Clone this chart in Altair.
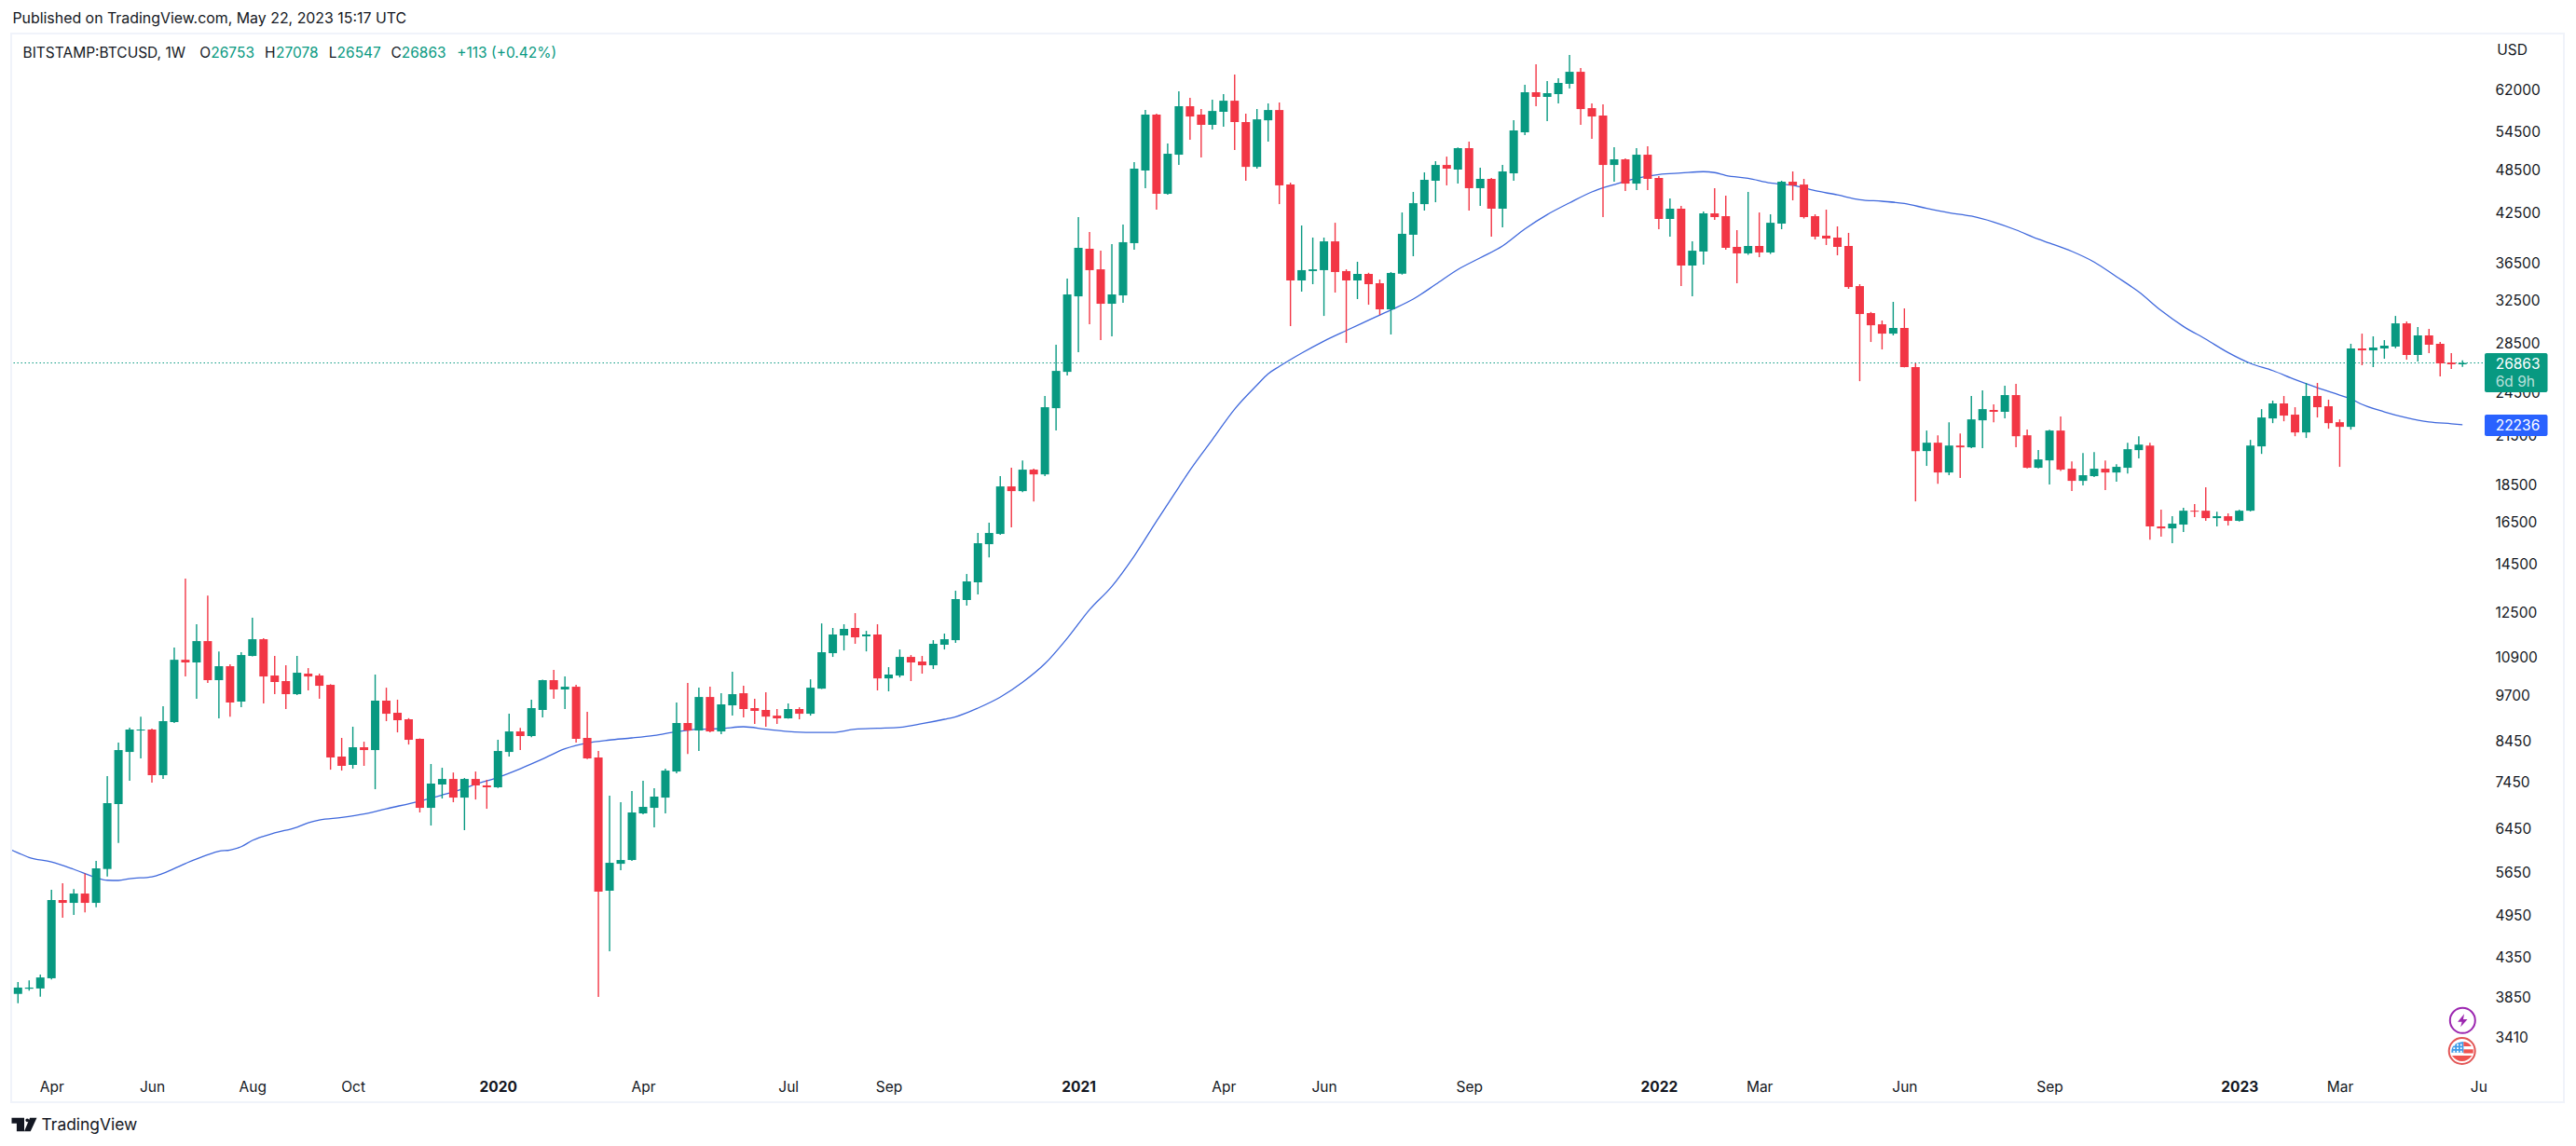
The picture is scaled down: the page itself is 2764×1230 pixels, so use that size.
import json
import altair as alt
import pandas as pd

# ---- weekly BTCUSD candles ----
opens = [3893,3955,3958,4084,5189,5144,5293,5144,5706,6961,8165,8719,8745,7604,8947,10827,10738,11464,10172,10616,
         9527,10954,11530,10317,10143,9745,10377,10317,10027,8051,7847,8283,8212,9554,9205,9024,8499,6881,7391,7517,
         7100,7517,7369,7327,8165,8694,8572,9285,10172,9886,9969,8523,8028,5339,5798,5865,6765,6881,7100,7690,
         8921,8719,9661,8694,9417,9773,9338,9285,9125,9050,9311,9178,9911,11048,11664,11933,11631,11698,10227,10317,
         10922,10769,10646,11336,11497,12999,13723,15424,15916,18407,18144,19377,19097,23389,26139,32937,38099,35777,32197,33033,
         38764,48415,57452,45078,50816,58944,57452,55675,57947,59950,56157,48957,56461,58265,46378,34581,35585,35687,38974,35585,
         34581,35280,34285,31655,35300,39772,43682,46919,49244,48555,51847,45867,47189,43074,47998,54421,61524,60650,61174,63125,
         65497,58604,57286,49244,50103,46513,50816,47325,41743,43074,36196,37782,42467,42105,38321,37567,38432,37674,41155,46784,
         46378,42105,39658,39430,38432,33988,31292,30235,29385,29899,26521,20510,21043,19209,20860,20747,22536,23262,23129,24346,
         21527,19488,19934,21840,19432,18723,18995,19432,19209,19488,20570,20860,16283,16188,16377,17088,17088,16705,16802,16565,
         17088,20807,22665,23730,22930,21715,24276,23526,22407,22090,28078,27916,28078,28240,30323,27524,29224,28483,26895,26753]
highs = [4037,4057,4130,5355,5461,5365,5630,5849,7583,8401,8795,9098,8770,9390,11238,13881,12071,13181,11108,10677,
         11080,12314,11564,10954,10646,10954,10554,10377,10047,8523,8820,8425,10347,9940,9582,9055,8510,7869,7779,7667,
         7539,7690,7495,8474,9178,8788,9582,10190,10493,10287,10027,9232,8189,7142,7001,7242,7474,7306,7757,9499,
         10085,9940,9969,9773,10436,9998,9609,9801,9311,9472,9362,10198,12101,11933,12071,12488,11830,12071,10585,11174,
         10985,10954,11497,11731,13375,14078,15962,16471,18995,19488,19934,19432,24276,28402,34772,41984,40099,37878,38653,41038,
         49673,58265,57600,52588,61699,60475,58435,60125,61174,64951,57617,58435,59454,59624,46648,40920,39430,39430,41260,35777,
         36614,35400,34680,35484,42578,45341,48137,49816,50521,51950,52891,48833,47325,49244,56461,62945,67020,63655,64210,68960,
         66259,59454,59284,51995,50246,51847,52142,47595,44449,43447,38974,42702,45867,44832,40334,45341,42578,42346,46919,48276,
         47189,42346,42950,40803,40000,34186,31400,30587,32384,31745,26827,21840,21527,22407,21652,24276,24690,23662,25051,25196,
         21902,20570,21900,22798,19877,20392,20451,19934,19704,21043,21464,21043,17138,16802,17238,17437,18355,17039,16948,17138,
         21225,23321,23935,24276,23458,25268,25268,24003,22600,28483,29385,29141,28808,31019,30499,29985,29813,28641,27682,27078]
lows = [3783,3932,3860,4069,4915,4958,4998,5076,5577,6180,7474,8005,7433,7517,8920,10287,9609,10085,9050,9098,
        9362,10940,9472,9745,9311,9720,9858,9609,7734,7712,7757,7824,7285,8973,8669,8352,6784,6518,7080,7001,
        6427,7059,6861,7310,8051,8212,8540,9076,9609,9311,8401,7990,3857,4436,5684,5850,6745,6480,6765,7648,
        8117,8189,8669,8619,9125,9076,8895,8820,8895,9040,9024,9125,9900,10922,11141,11369,11108,9858,9830,10257,
        10143,10377,10524,11174,11401,12779,13221,14817,15870,16236,18091,17583,19000,21840,25847,27754,30235,28808,29141,32290,
        37989,45867,42950,44950,49244,53194,50374,54872,55354,51553,46919,48700,52891,43682,30070,33417,34186,31019,33321,28558,
        32664,32104,31110,29307,35200,37244,42826,43938,46262,46513,42826,43447,39544,40686,46919,53953,58944,56317,59454,62225,
        55675,53329,41984,46784,45473,45604,45604,40451,39544,33988,32937,36300,41622,37989,34285,37400,37136,37500,40451,44193,
        41800,39202,38543,37351,33705,25404,28641,27997,29224,26500,17583,19600,18560,19049,18886,20700,20688,22407,22665,20747,
        19450,19450,18513,19300,18144,18460,18950,18196,18669,19153,20049,15641,15778,15469,16007,16754,16565,16283,16330,16530,
        17050,20333,22342,22471,21464,21347,22732,21965,19544,21902,26674,26521,27210,28100,27131,26974,27682,25773,26368,26547]
closes = [3969,3969,4094,5189,5144,5293,5144,5717,6981,8212,8745,8745,7604,8973,10827,10738,11464,10172,10616,9499,
          10985,11530,10287,10114,9745,10406,10287,9998,8028,7824,8283,8212,9554,9178,8998,8474,6881,7412,7517,7100,
          7517,7369,7327,8189,8694,8572,9338,10172,9886,9969,8499,8005,5324,5815,5865,6784,6901,7121,7712,8921,
          8719,9661,8694,9445,9745,9311,9258,9098,9050,9311,9178,9940,11080,11698,11899,11597,11698,10227,10347,10922,
          10738,10646,11369,11530,13037,13762,15469,15962,18407,18144,19377,19097,23458,26215,33129,38210,35687,32197,33129,38875,
          48694,57452,45078,50963,58944,57121,55675,58095,59950,56157,48957,56626,58265,46262,34581,35687,35777,38974,35484,34581,
          35280,34186,31655,35382,39886,43810,47054,49244,48694,51847,45867,47189,43074,48276,54733,61524,60650,61349,63305,65497,
          58435,57121,49244,50103,46513,50816,47189,41743,43074,36196,37878,42467,41984,38210,37567,38432,37674,41260,46784,46262,
          41984,39544,39316,38321,33889,31201,30146,29385,29899,26521,20510,21043,19209,20860,20747,22600,23321,23129,24346,21464,
          19488,19992,21840,19377,18723,19049,19432,19209,19544,20629,20921,16283,16188,16424,17088,17039,16705,16802,16565,17088,
          20860,22732,23730,22864,21715,24276,23458,22342,22090,28078,27916,28159,28321,30323,27524,29224,28402,26827,26753,26863]

# ---- 50-week moving average, read at these week numbers ----
ma_weeks = [-1,0,1,3,5,7,8,9,10,12,13,15,17,18,19,20,21,23,25,26,27,29,31,33,36,38,40,41,43,45,47,49,51,53,55,57,59,61,63,65,67,69,71,73,
            75,77,79,81,83,84,86,88,90,92,94,96,98,100,102,104,105,107,109,111,112,113,115,117,119,121,123,125,127,129,131,133,135,137,139,
            141,143,145,147,149,151,152,153,155,157,159,161,163,165,167,169,171,173,175,177,179,181,182,184,186,188,190,192,194,196,198,200,
            202,204,206,208,209,210,212,214,216,218,219]
ma_values = [6083,5996,5911,5832,5701,5556,5513,5509,5540,5572,5630,5803,5961,6024,6048,6109,6228,6372,6486,6574,6631,6681,6751,6861,7025,7156,7306,7397,7554,7757,7989,8243,8394,8469,8523,8589,8687,8753,8770,8820,8753,8694,8669,8669,
             8753,8778,8802,8903,9024,9094,9338,9655,10105,10698,11564,12622,13556,14874,16551,18370,19349,21243,23321,25102,25980,26575,27682,28724,29667,30615,31591,32664,34156,35758,37060,38432,40488,42300,43850,
             45341,46378,47285,47825,48042,48243,48108,47690,47285,46610,46262,45510,44930,44281,44065,43770,43113,42543,42105,41346,40369,39236,38764,37802,36583,34975,33388,31537,30040,28891,27732,26827,
             26240,25531,24907,24346,24066,23662,23129,22713,22426,22300,22236]

price_ticks = [62000,54500,48500,42500,36500,32500,28500,24500,21500,18500,16500,14500,12500,10900,9700,8450,7450,6450,5650,4950,4350,3850,3410]
tick_dates = ["2019-04-01","2019-06-03","2019-08-05","2019-10-07","2020-01-06","2020-04-06","2020-07-06","2020-09-07","2021-01-04",
              "2021-04-05","2021-06-07","2021-09-06","2022-01-03","2022-03-07","2022-06-06","2022-09-05","2023-01-02","2023-03-06","2023-06-01"]
tick_labels = ["Apr","Jun","Aug","Oct","2020","Apr","Jul","Sep","2021","Apr","Jun","Sep","2022","Mar","Jun","Sep","2023","Mar","Ju"]

GREEN, RED, BLUE, LINE = "#089981", "#F23645", "#2962FF", "#3f68dc"
INK, FRAME, FONT = "#131722", "#f0f3fa", "Inter"
LEFT, TOP = 13, 37

dates = pd.date_range("2019-03-11", periods=len(opens), freq="7D")
stamp = lambda d: d.strftime("%Y-%m-%dT%H:%M:%SZ")
candles = pd.DataFrame({"date": [stamp(d) for d in dates], "open": opens, "high": highs, "low": lows, "close": closes})
candles["dir"] = ["up" if c >= o else "down" for o, c in zip(opens, closes)]
ma = pd.DataFrame({"date": [stamp(dates[0] + pd.Timedelta(days=7 * w)) for w in ma_weeks], "ma": ma_values})

x_axis = alt.Axis(values=[d + "T00:00:00Z" for d in tick_dates], title=None, domain=False, ticks=False, grid=False,
                  labelExpr=json.dumps(dict(zip(tick_dates, tick_labels))) + "[utcFormat(datum.value,'%Y-%m-%d')]",
                  labelFont=FONT, labelFontSize=15.5, labelColor=INK, labelPadding=23, labelBaseline="middle",
                  labelOverlap=False, labelFlush=False, labelBound=False, labelAngle=0,
                  labelFontWeight={"condition": {"test": "utcmonth(datum.value)==0", "value": 700}, "value": 400})
y_axis = alt.Axis(values=price_ticks, orient="right", title=None, domain=False, ticks=False, grid=False, format="d",
                  labelFont=FONT, labelFontSize=15.5, labelColor=INK, labelPadding=13, labelBaseline="middle",
                  labelOverlap=False, labelFlush=False, labelBound=False)
x_scale = alt.Scale(type="utc", domain=["2019-03-07T07:40:00Z", "2023-06-03T17:45:00Z"], padding=0, nice=False)
y_scale = alt.Scale(type="log", domain=[3132, 73426], nice=False, zero=False)
X = alt.X("date:T", scale=x_scale, axis=x_axis)
colour = alt.Color("dir:N", scale=alt.Scale(domain=["up", "down"], range=[GREEN, RED]), legend=None)
blank = alt.Data(values=[{}])


def note(text, x, y, color=INK, size=15.5, weight=400, font=FONT, align="left", opacity=1):
    return alt.Chart(blank).mark_text(text=text, align=align, baseline="middle", font=font, fontSize=size,
                                      fontWeight=weight, color=color, opacity=opacity).encode(
        x=alt.value(x - LEFT), y=alt.value(y - TOP))


def badge(color, x0, x1, y0, y1):
    return alt.Chart(blank).mark_rect(color=color, cornerRadius=2).encode(
        x=alt.value(x0 - LEFT), x2=alt.value(x1 - LEFT), y=alt.value(y0 - TOP), y2=alt.value(y1 - TOP))


def glyph(path, x, y, size, fill=None, stroke=None, width=2):
    kw = dict(shape=path, size=size, opacity=1, filled=fill is not None)
    if fill is not None:
        kw.update(fill=fill, strokeWidth=0)
    if stroke is not None:
        kw.update(stroke=stroke, strokeWidth=width)
    return alt.Chart(blank).mark_point(**kw).encode(x=alt.value(x - LEFT), y=alt.value(y - TOP))


frame = alt.Chart(blank).mark_rect(fill="#ffffff", fillOpacity=0, stroke=FRAME, strokeWidth=2).encode(
    x=alt.value(12 - LEFT), x2=alt.value(2751 - LEFT), y=alt.value(36 - TOP), y2=alt.value(1183 - TOP))

last_line = alt.Chart(pd.DataFrame({"p": [closes[-1]]})).mark_rule(
    color=GREEN, strokeWidth=1, strokeDash=[1.5, 2.5]).encode(y=alt.Y("p:Q", scale=y_scale, axis=y_axis))
ma_line = alt.Chart(ma).mark_line(color=LINE, strokeWidth=1.3, clip=True, interpolate="monotone").encode(
    x=X, y=alt.Y("ma:Q", scale=y_scale, axis=y_axis))
wicks = alt.Chart(candles).mark_rule(strokeWidth=1.4).encode(
    x=X, y=alt.Y("low:Q", scale=y_scale, axis=y_axis), y2="high:Q", color=colour)
bodies = alt.Chart(candles).mark_bar(size=9).encode(
    x=X, y=alt.Y("open:Q", scale=y_scale, axis=y_axis), y2="close:Q", color=colour)

LEG = 15.5
texts = [
    note("Published on TradingView.com, May 22, 2023 15:17 UTC", 13.4, 20, size=15.9),
    note("BITSTAMP:BTCUSD, 1W", 24.5, 56.5, size=LEG),
    note("O", 214.3, 56.5, size=LEG), note("26753", 226.3, 56.5, GREEN, LEG),
    note("H", 284, 56.5, size=LEG), note("27078", 296, 56.5, GREEN, LEG),
    note("L", 352.7, 56.5, size=LEG), note("26547", 361.6, 56.5, GREEN, LEG),
    note("C", 419.6, 56.5, size=LEG), note("26863", 430.8, 56.5, GREEN, LEG),
    note("+113 (+0.42%)", 490.2, 56.5, GREEN, LEG),
    note("USD", 2679.3, 53.5),
    note("TradingView", 44.6, 1208, size=17.4),
]
badges = [
    badge(GREEN, 2666, 2733.5, 379, 421),
    note("26863", 2677.7, 390.5, "#ffffff"),
    note("6d 9h", 2677.7, 409.7, "#ffffff", opacity=0.7),
    badge(BLUE, 2666, 2733.5, 445, 468),
    note("22236", 2677.7, 456.5, "#ffffff"),
]

dots = "".join(f"M{x:.2f},{y:.2f}h.16v.16h-.16z" for x in (-.78, -.47, -.16) for y in (-.62, -.32, -.02))
icons = [
    glyph("circle", 2642.3, 1095.3, 729, stroke="#9c27b0"),
    glyph("M.25,-1L-.75,.2H-.1L-.3,1L.75,-.2H.1Z", 2642.3, 1095.3, 196, fill="#9c27b0"),
    glyph("circle", 2641.7, 1128, 784, stroke="#e25555"),
    glyph("M.14,-.83L.14,.14L-.95,.14Q-1,-.7 .14,-.83Z", 2641.7, 1128, 576, fill="#3f9be8"),
    glyph(dots, 2641.7, 1128, 576, fill="#ffffff"),
    glyph("M.14,-.83Q.6,-.8 .85,-.42L.14,-.42ZM.14,-.14L1,-.14L1,.2L.14,.2ZM-.9,.42L.9,.42Q.5,.92 0,.92Q-.5,.92 -.9,.42Z",
          2641.7, 1128, 576, fill="#ef5350"),
    glyph("M-1,-.53H0V.53H-.6V-.1H-1ZM.38,-.35A.14,.14 0 1 1 .1,-.35A.14,.14 0 1 1 .38,-.35ZM.45,-.53H1L.5,.53H-.0Z",
          26, 1207, 729, fill=INK),
]

chart = alt.layer(frame, last_line, ma_line, wicks, bodies, *badges, *texts, *icons).properties(
    width=2651, height=1106,
    padding={"left": LEFT - 8, "top": TOP - 8, "right": 92, "bottom": 79},
    autosize=alt.AutoSizeParams(type="none"),
    background="#ffffff",
).configure_view(stroke=None)

chart.save("out.html", embed_options={"renderer": "svg", "actions": False})
